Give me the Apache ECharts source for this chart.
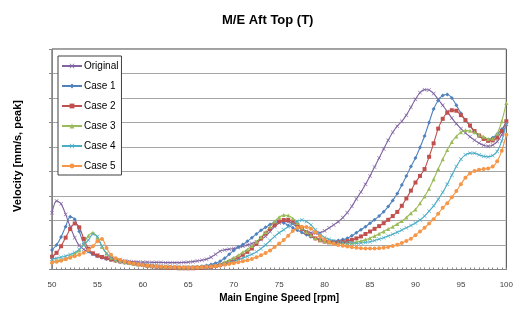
<!DOCTYPE html>
<html>
<head>
<meta charset="utf-8">
<script src="https://cdn.jsdelivr.net/npm/echarts@6/dist/echarts.min.js"></script>
<style>html,body{margin:0;padding:0;background:#fff}#c{width:516px;height:310px}</style>
</head>
<body>
<div id="c"></div>
<script>
const rpm = [50,50.5,51,51.5,52,52.5,53,53.5,54,54.5,55,55.5,56,56.5,57,57.5,58,58.5,59,59.5,
60,60.5,61,61.5,62,62.5,63,63.5,64,64.5,65,65.5,66,66.5,67,67.5,68,68.5,69,69.5,
70,70.5,71,71.5,72,72.5,73,73.5,74,74.5,75,75.5,76,76.5,77,77.5,78,78.5,79,79.5,
80,80.5,81,81.5,82,82.5,83,83.5,84,84.5,85,85.5,86,86.5,87,87.5,88,88.5,89,89.5,
90,90.5,91,91.5,92,92.5,93,93.5,94,94.5,95,95.5,96,96.5,97,97.5,98,98.5,99,99.5,100];

const original = [2.32,2.8,2.68,2.25,1.75,1.3,0.98,0.82,0.72,0.65,
0.58,0.52,0.47,0.43,0.4,0.37,0.35,0.33,0.32,0.31,
0.3,0.3,0.29,0.29,0.29,0.28,0.28,0.28,0.28,0.29,
0.3,0.32,0.35,0.38,0.42,0.5,0.62,0.75,0.8,0.83,
0.86,0.9,0.95,1.0,1.06,1.13,1.22,1.35,1.55,1.75,
1.9,1.96,1.95,1.86,1.74,1.64,1.56,1.5,1.48,1.5,
1.58,1.7,1.82,1.95,2.12,2.32,2.58,2.88,3.16,3.48,
3.82,4.18,4.55,4.92,5.28,5.6,5.85,6.05,6.3,6.62,
6.95,7.22,7.34,7.33,7.18,6.95,6.7,6.45,6.18,5.95,
5.75,5.58,5.42,5.28,5.16,5.07,5.03,5.08,5.22,5.5,5.92];

const case1 = [0.8,1.0,1.33,1.75,2.15,2.05,1.55,1.05,0.75,0.62,
0.54,0.48,0.43,0.39,0.35,0.31,0.28,0.25,0.22,0.2,
0.18,0.16,0.14,0.13,0.12,0.11,0.1,0.1,0.09,0.09,
0.09,0.1,0.11,0.13,0.16,0.2,0.26,0.34,0.46,0.62,
0.78,0.92,1.02,1.15,1.3,1.45,1.6,1.72,1.84,1.93,
1.96,1.9,1.8,1.7,1.6,1.51,1.42,1.34,1.27,1.21,
1.17,1.15,1.15,1.18,1.22,1.28,1.38,1.5,1.62,1.75,
1.89,2.03,2.18,2.36,2.57,2.82,3.1,3.45,3.82,4.2,
4.55,4.98,5.45,6.0,6.55,6.9,7.1,7.14,7.0,6.7,
6.38,6.1,5.85,5.62,5.45,5.33,5.3,5.38,5.52,5.72,6.0];

const case2 = [0.52,0.68,0.95,1.3,1.65,1.88,1.72,1.25,0.85,0.66,
0.57,0.51,0.46,0.41,0.37,0.33,0.3,0.27,0.24,0.21,
0.18,0.15,0.13,0.11,0.09,0.08,0.07,0.06,0.05,0.05,
0.05,0.05,0.06,0.07,0.09,0.11,0.14,0.18,0.24,0.31,
0.4,0.48,0.6,0.72,0.86,1.05,1.27,1.47,1.65,1.82,
1.96,2.02,2.02,1.95,1.82,1.66,1.51,1.38,1.27,1.19,
1.14,1.11,1.1,1.11,1.13,1.16,1.21,1.27,1.35,1.45,
1.55,1.66,1.77,1.89,2.03,2.18,2.35,2.6,2.9,3.22,
3.55,3.82,4.1,4.6,5.15,5.75,6.15,6.4,6.5,6.48,
6.3,6.1,5.88,5.65,5.47,5.33,5.25,5.27,5.38,5.65,6.05];

const case3 = [0.32,0.35,0.4,0.45,0.52,0.62,0.78,1.05,1.38,1.5,
1.3,0.92,0.65,0.48,0.4,0.35,0.3,0.27,0.24,0.21,
0.19,0.17,0.15,0.13,0.12,0.11,0.1,0.09,0.08,0.08,
0.08,0.08,0.09,0.1,0.12,0.14,0.17,0.22,0.3,0.38,
0.48,0.58,0.7,0.82,0.96,1.13,1.32,1.52,1.75,1.96,
2.13,2.22,2.2,2.08,1.9,1.7,1.53,1.4,1.29,1.21,
1.15,1.11,1.08,1.07,1.07,1.07,1.09,1.12,1.16,1.22,
1.29,1.37,1.46,1.55,1.65,1.75,1.86,1.98,2.12,2.3,
2.45,2.7,2.98,3.3,3.68,4.1,4.5,4.88,5.2,5.43,
5.6,5.68,5.66,5.6,5.5,5.42,5.33,5.34,5.55,6.05,6.8];

const case4 = [0.42,0.46,0.5,0.55,0.61,0.69,0.82,1.0,1.2,1.44,
1.35,0.95,0.66,0.5,0.42,0.37,0.32,0.28,0.25,0.22,
0.2,0.18,0.16,0.14,0.13,0.12,0.11,0.1,0.09,0.09,
0.09,0.09,0.1,0.11,0.12,0.14,0.16,0.19,0.23,0.28,
0.34,0.4,0.47,0.54,0.62,0.72,0.85,1.0,1.18,1.35,
1.5,1.62,1.75,1.88,1.97,2.02,1.96,1.82,1.62,1.44,
1.31,1.23,1.17,1.13,1.11,1.09,1.08,1.07,1.08,1.1,
1.13,1.18,1.24,1.3,1.37,1.44,1.52,1.61,1.7,1.8,
1.9,2.02,2.18,2.38,2.6,2.86,3.15,3.48,3.85,4.2,
4.5,4.68,4.75,4.75,4.68,4.62,4.6,4.65,4.82,5.25,5.95];

const case5 = [0.28,0.32,0.36,0.42,0.48,0.54,0.6,0.68,0.8,0.95,
1.15,1.25,0.88,0.6,0.46,0.4,0.33,0.28,0.24,0.21,
0.18,0.16,0.14,0.13,0.12,0.11,0.1,0.1,0.09,0.09,
0.09,0.09,0.09,0.1,0.11,0.12,0.14,0.16,0.19,0.22,
0.26,0.3,0.34,0.38,0.43,0.5,0.58,0.67,0.78,0.92,
1.06,1.2,1.38,1.57,1.7,1.75,1.73,1.66,1.52,1.36,
1.22,1.12,1.05,1.0,0.97,0.94,0.91,0.89,0.87,0.86,
0.86,0.86,0.87,0.89,0.92,0.96,1.01,1.08,1.16,1.26,
1.4,1.55,1.7,1.88,2.05,2.28,2.52,2.7,2.95,3.2,
3.48,3.75,3.92,4.02,4.07,4.1,4.12,4.2,4.42,4.85,5.5];

const seriesNames = ['Original','Case 1','Case 2','Case 3','Case 4','Case 5'];
const seriesData = [original, case1, case2, case3, case4, case5];
const colors = ['#8064A2','#4F81BD','#C0504D','#9BBB59','#4BACC6','#F79646'];
const crossPath = 'path://M0,1L1,0L5,4L9,0L10,1L6,5L10,9L9,10L5,6L1,10L0,9L4,5Z';
const symbols = [crossPath,'diamond','rect','triangle',crossPath,'circle'];
const symbolSizes = [4,4,4,4,4,4];

const font = 'Liberation Sans, Arial, sans-serif';
const chart = echarts.init(document.getElementById('c'), null, {renderer:'canvas'});
chart.setOption({
  animation: false,
  backgroundColor: '#fff',
  title: {
    text: 'M/E Aft Top (T)',
    left: 217, top: 9,
    textStyle: {fontFamily: font, fontSize: 13, fontWeight: 'bold', color: '#000'}
  },
  grid: {left: 52, right: 4, top: 49, bottom: 40.5, show: true, borderColor: '#404040', borderWidth: 1},
  legend: {
    orient: 'vertical', left: 58, top: 56,
    backgroundColor: '#fff', borderColor: '#404040', borderWidth: 1,
    padding: [5, 3, 4, 3], itemGap: 10, itemWidth: 20, itemHeight: 6,
    textStyle: {fontFamily: font, fontSize: 10, color: '#000', padding: [0,0,0,-3]},
    data: seriesNames
  },
  xAxis: {
    type: 'value', min: 50, max: 100, interval: 5,
    name: 'Main Engine Speed [rpm]', nameLocation: 'middle', nameGap: 24,
    nameTextStyle: {fontFamily: font, fontSize: 10, fontWeight: 'bold', color: '#000'},
    axisLine: {show: true, lineStyle: {color: '#868686'}},
    axisTick: {show: true, inside: true, length: 2, lineStyle: {color: '#868686'}},
    minorTick: {show: true, splitNumber: 10, length: 2, lineStyle: {color: '#868686'}},
    axisLabel: {fontFamily: font, fontSize: 8, color: '#404040', margin: 11},
    splitLine: {show: false}
  },
  yAxis: {
    type: 'value', min: 0, max: 9, interval: 1,
    axisLine: {show: true, lineStyle: {color: '#868686'}},
    axisTick: {show: true, length: 3, lineStyle: {color: '#868686'}},
    axisLabel: {show: false},
    splitLine: {show: true, lineStyle: {color: '#a6a6a6', width: 1}}
  },
  graphic: [{
    type: 'text', x: 18, y: 156, rotation: Math.PI / 2,
    style: {text: 'Velocity [mm/s, peak]', fontFamily: font, fontSize: 11, fontWeight: 'bold',
      fill: '#000', align: 'center', verticalAlign: 'middle'}
  }],
  series: seriesNames.map((n, i) => ({
    name: n, type: 'line', smooth: 0.3,
    data: rpm.map((x, k) => [x, seriesData[i][k]]),
    symbol: symbols[i], symbolSize: symbolSizes[i], showSymbol: true,
    lineStyle: {color: colors[i], width: 1.1},
    itemStyle: {color: colors[i]},
    color: colors[i]
  }))
});
</script>
</body>
</html>
